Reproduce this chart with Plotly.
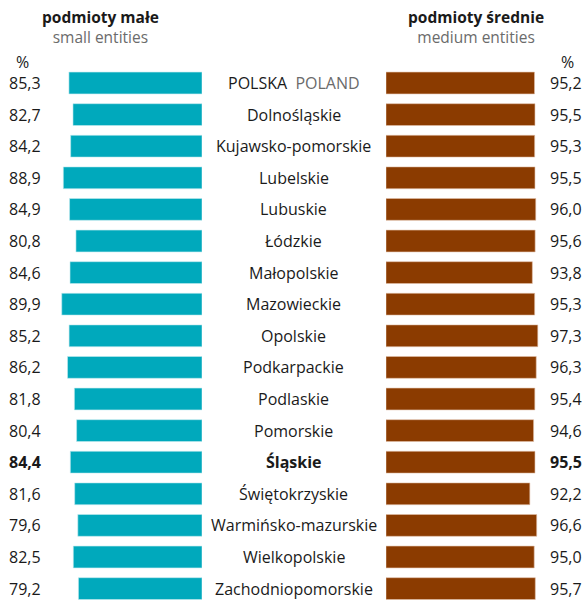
import plotly.graph_objects as go

regions = ["POLSKA", "Dolnośląskie", "Kujawsko-pomorskie", "Lubelskie", "Lubuskie",
           "Łódzkie", "Małopolskie", "Mazowieckie", "Opolskie", "Podkarpackie",
           "Podlaskie", "Pomorskie", "Śląskie", "Świętokrzyskie", "Warmińsko-mazurskie",
           "Wielkopolskie", "Zachodniopomorskie"]
small = [85.3, 82.7, 84.2, 88.9, 84.9, 80.8, 84.6, 89.9, 85.2, 86.2, 81.8, 80.4,
         84.4, 81.6, 79.6, 82.5, 79.2]
medium = [95.2, 95.5, 95.3, 95.5, 96.0, 95.6, 93.8, 95.3, 97.3, 96.3, 95.4, 94.6,
          95.5, 92.2, 96.6, 95.0, 95.7]
highlight = "Śląskie"

W, H = 587, 601
TEAL = "#00A9BC"
BROWN = "#8B3B00"
FONT = "Open Sans"
FS = 16
HFS = 15.5

def fmt(v):
    return f"{v:.1f}".replace(".", ",")

idx = list(range(len(regions)))
row0, step = 83, 31.6
scale = 1.56  # px per unit

fig = go.Figure()
fig.add_trace(go.Bar(y=idx, x=small, orientation="h", xaxis="x", yaxis="y",
                     marker=dict(color=TEAL, line=dict(color="#bfe9ee", width=0.6)),
                     width=0.69, hoverinfo="skip"))
fig.add_trace(go.Bar(y=idx, x=medium, orientation="h", xaxis="x2", yaxis="y",
                     marker=dict(color=BROWN, line=dict(color="#e0c0a8", width=0.6)),
                     width=0.69, hoverinfo="skip"))

ann = []
for i, (r, s, m) in enumerate(zip(regions, small, medium)):
    bold = r == highlight
    b0, b1 = ("<b>", "</b>") if bold else ("", "")
    if r == "POLSKA":
        label = "POLSKA  <span style='color:#6b6b6b'>POLAND</span>"
    else:
        label = f"{b0}{r}{b1}"
    ann.append(dict(x=294 / W, xref="paper", y=i, yref="y", text=label, showarrow=False,
                    xanchor="center", yanchor="middle", font=dict(family=FONT, size=FS, color="#1a1a1a")))
    ann.append(dict(x=43 / W, xref="paper", y=i, yref="y", text=f"{b0}{fmt(s)}{b1}", showarrow=False,
                    xanchor="right", yanchor="middle", font=dict(family=FONT, size=FS, color="#1a1a1a")))
    ann.append(dict(x=584 / W, xref="paper", y=i, yref="y", text=f"{b0}{fmt(m)}{b1}", showarrow=False,
                    xanchor="right", yanchor="middle", font=dict(family=FONT, size=FS, color="#1a1a1a")))

def top(px):
    return 1 - px / H

ann += [
    dict(x=100 / W, y=top(27.5), xref="paper", yref="paper",
         text="<b>podmioty małe</b><br><span style='color:#6b6b6b'>small entities</span>",
         showarrow=False, xanchor="center", yanchor="middle", align="center",
         font=dict(family=FONT, size=HFS, color="#1a1a1a")),
    dict(x=476 / W, y=top(27), xref="paper", yref="paper",
         text="<b>podmioty średnie</b><br><span style='color:#6b6b6b'>medium entities</span>",
         showarrow=False, xanchor="center", yanchor="middle", align="center",
         font=dict(family=FONT, size=HFS, color="#1a1a1a")),
    dict(x=22 / W, y=top(62), xref="paper", yref="paper", text="%", showarrow=False,
         xanchor="center", yanchor="middle", font=dict(family=FONT, size=FS, color="#1a1a1a")),
    dict(x=567 / W, y=top(62), xref="paper", yref="paper", text="%", showarrow=False,
         xanchor="center", yanchor="middle", font=dict(family=FONT, size=FS, color="#1a1a1a")),
]

left_edge, right_start = 202, 386
fig.update_layout(
    width=W, height=H, margin=dict(l=0, r=0, t=0, b=0),
    paper_bgcolor="white", plot_bgcolor="white", showlegend=False,
    xaxis=dict(domain=[0, left_edge / W], range=[left_edge / scale, 0], visible=False, fixedrange=True),
    xaxis2=dict(domain=[right_start / W, 1], range=[0, (W - right_start) / scale], visible=False, fixedrange=True),
    yaxis=dict(domain=[0, 1], range=[(H - row0) / step, -row0 / step], visible=False, fixedrange=True),
    annotations=ann,
    font=dict(family=FONT),
)
fig.write_html("out.html", config={"displayModeBar": False},
               post_script="document.body.style.margin='0';document.body.style.overflow='hidden';")
